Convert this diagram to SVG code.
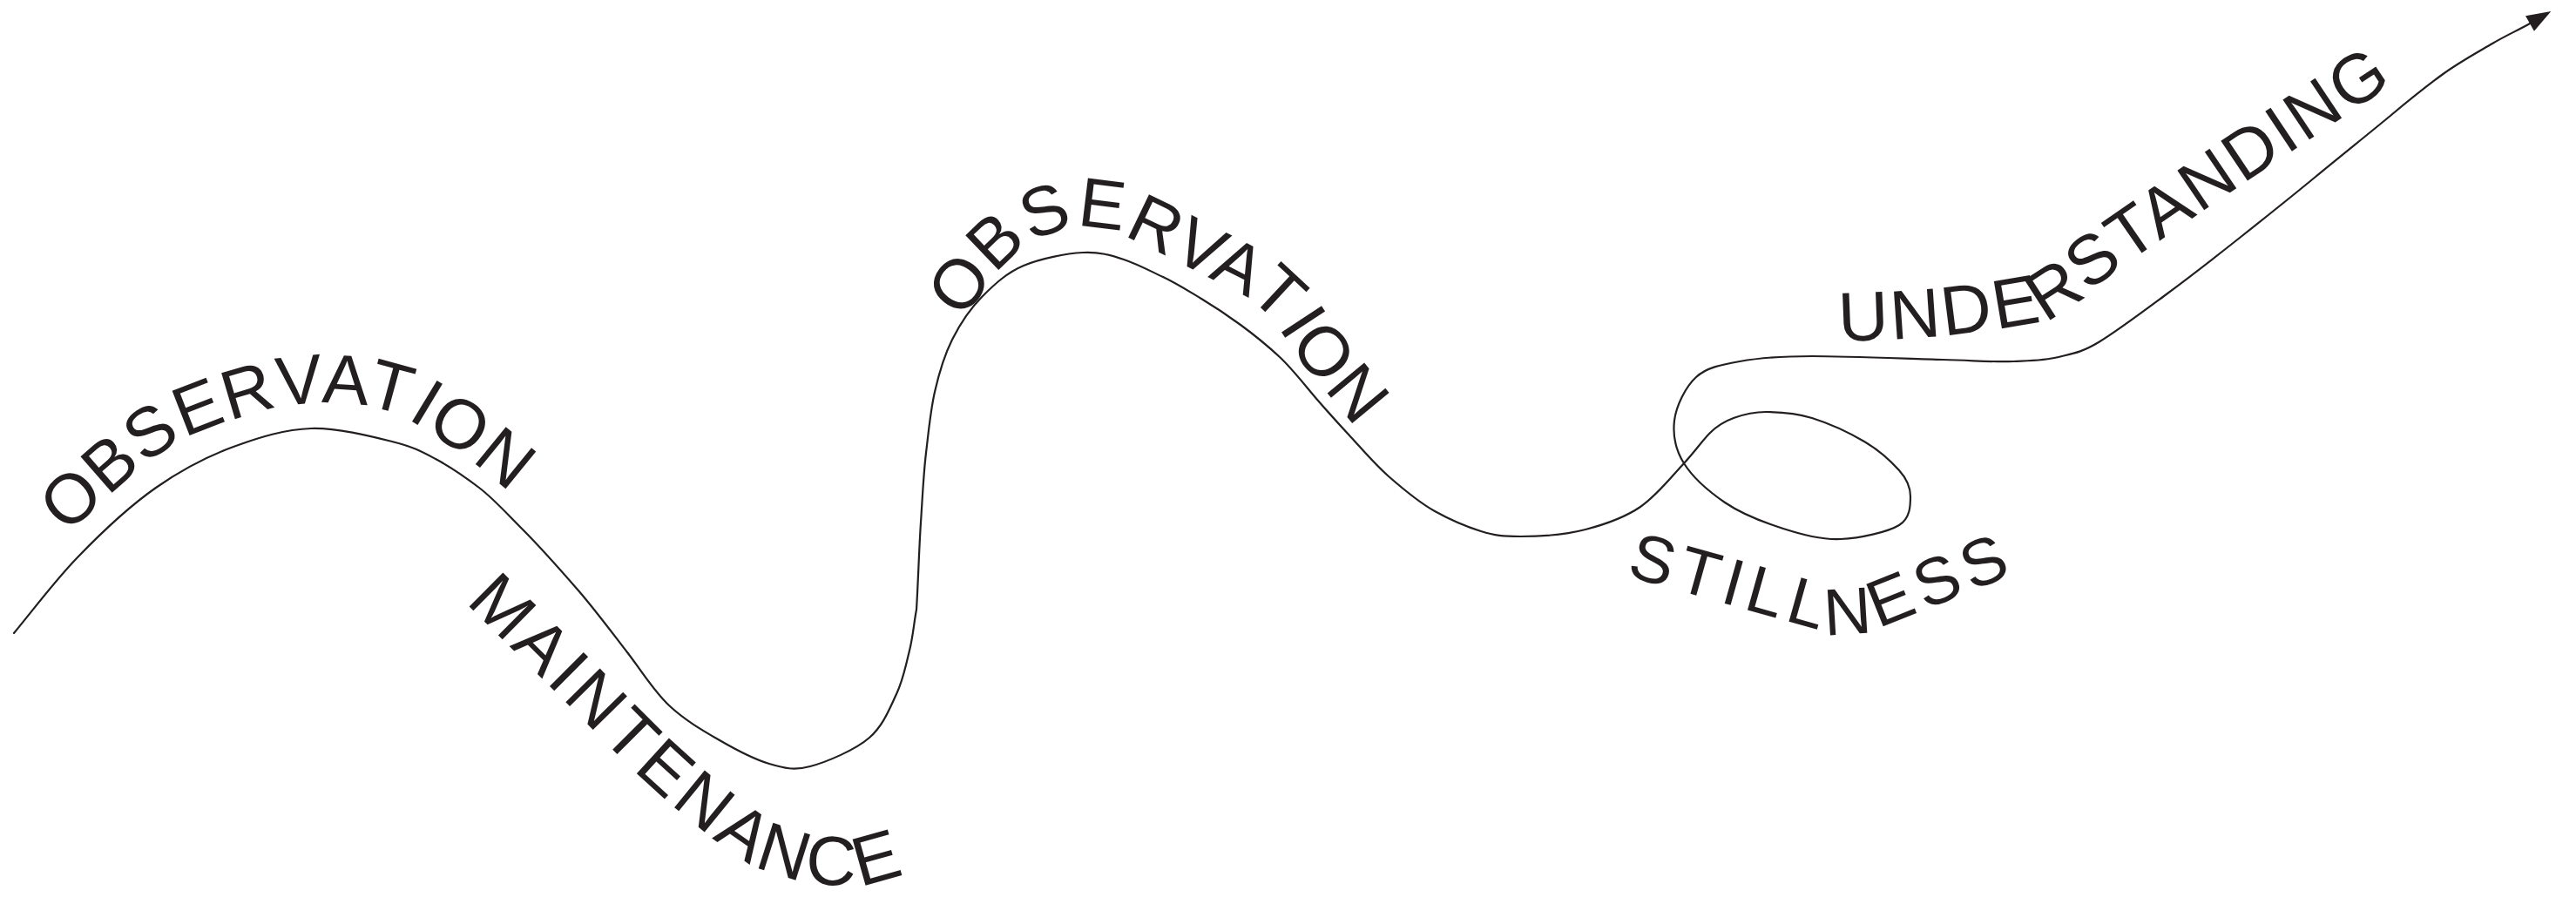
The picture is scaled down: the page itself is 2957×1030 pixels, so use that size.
<svg xmlns="http://www.w3.org/2000/svg" width="2957" height="1030" viewBox="0 0 2957 1030">
<style>
  .lbl { font-family: "Liberation Sans", Arial, Helvetica, sans-serif; font-size: 80px; fill: #231f20; }
  .curve { fill: none; stroke: #231f20; stroke-width: 2.2; stroke-linecap: round; stroke-linejoin: round; }
  .guide { fill: none; stroke: none; }
</style>
<defs>
  <marker id="arrow" markerUnits="userSpaceOnUse" markerWidth="30" markerHeight="22" refX="0" refY="10" orient="auto" overflow="visible">
    <path d="M0,0 L28,10 L0,20 z" fill="#231f20"/>
  </marker>
  <path id="p-obs1" class="guide" d="M76,613 C114,581 154,540 189,517 S258,485 287,476 S338,464 364,463 S422,465 446,472 S491,496 510,508 S547,534 562,546 S587,569 600,580"/>
  <path id="p-maint" class="guide" d="M534,692 C569,727 605,762 640,797 S713,872 747,903 S820,965 845,982 S880,1000 898,1006 S933,1015 952,1016 S993,1016 1010,1012 S1040,1001 1055,995"/>
  <path id="p-obs2" class="guide" d="M1104,367 C1123,343 1144,312 1162,295 S1196,272 1213,266 S1248,260 1264,262 S1291,271 1310,280 S1357,303 1380,315 S1430,338 1449,355 S1477,394 1497,419 S1546,478 1570,508"/>
  <path id="p-still" class="guide" d="M1866,661 L2090,724 Q2126,734 2160,720 L2330,652"/>
  <path id="p-under" class="guide" d="M2111,392 C2141,391 2170,390 2200,388 S2263,382 2290,378 S2338,372 2360,362 S2397,335 2420,318 S2442,302 2500,262 S2680,141 2770,81"/>
</defs>
<rect x="0" y="0" width="2957" height="1030" fill="#ffffff"/>
<g id="connectors">
  <path id="main-curve" class="curve" marker-end="url(#arrow)" d="M16,727 C40,698 62,668 89,640 S149,581 179,560 S238,524 268,513 S327,493 357,492 S426,501 450,507 S483,518 500,527 S533,547 550,560 S581,589 600,608 S643,654 663,677 S703,727 720,749 S750,793 768,810 S807,839 826,850 S866,872 883,877 S911,885 930,880 S982,861 998,847 S1021,814 1029,797 S1040,763 1044,747 S1049,716 1052,700 C1054,667 1055,630 1057,600 S1060,545 1063,520 S1068,472 1073,450 S1084,408 1093,390 S1114,354 1128,340 S1156,313 1175,305 S1224,291 1243,290 S1275,293 1290,298 S1320,311 1335,318 S1364,334 1379,343 S1409,362 1424,373 S1454,396 1469,410 S1500,445 1513,460 S1536,486 1549,500 S1578,533 1594,547 S1629,577 1647,587 S1684,605 1700,610 S1725,616 1745,616 S1797,614 1820,608 S1864,595 1883,582 S1920,546 1933,532 S1954,506 1963,497 S1979,484 1990,480 S2012,473 2027,473 S2061,474 2080,480 S2123,497 2140,507 S2171,530 2180,540 S2193,560 2193,570 S2193,595 2180,603 S2135,618 2113,619 S2069,614 2047,607 S1999,590 1980,577 S1943,548 1933,532 S1920,500 1922,483 S1935,444 1947,433 S1975,419 1997,415 S2041,409 2080,409 S2192,412 2230,413 S2289,416 2311,415 S2347,414 2363,410 S2389,405 2409,393 S2457,360 2484,340 S2542,296 2571,273 S2629,227 2658,203 S2721,152 2745,132 S2784,100 2803,86 S2844,60 2861,50 S2890,35 2904,27"/>
</g>
<g id="label-observation-1">
  <text class="lbl" letter-spacing="2"><textPath href="#p-obs1">OBSERVATION</textPath></text>
</g>
<g id="label-maintenance">
  <text class="lbl" letter-spacing="4.5"><textPath href="#p-maint">MAINTENANCE</textPath></text>
</g>
<g id="label-observation-2">
  <text class="lbl" letter-spacing="2"><textPath href="#p-obs2">OBSERVATION</textPath></text>
</g>
<g id="label-stillness">
  <text class="lbl" style="font-size:76px" letter-spacing="7"><textPath href="#p-still">STILLNESS</textPath></text>
</g>
<g id="label-understanding">
  <text class="lbl" letter-spacing="2.5"><textPath href="#p-under">UNDERSTANDING</textPath></text>
</g>
</svg>
